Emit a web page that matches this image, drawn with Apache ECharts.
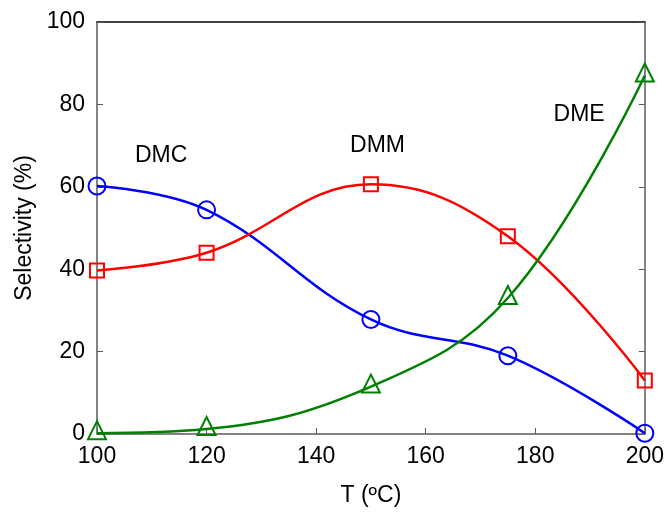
<!DOCTYPE html>
<html>
<head>
<meta charset="utf-8">
<script src="https://cdn.jsdelivr.net/npm/echarts@6/dist/echarts.min.js"></script>
<style>
  html, body { margin: 0; padding: 0; background: #fff; }
  #chart { width: 667px; height: 512px; }
</style>
</head>
<body>
<div id="chart"></div>
<script>
// temperatures (ºC) and selectivities (%)
var temps = [100, 120, 150, 175, 200]
var dmc = [60.2, 54.4, 27.8, 19.0, 0.2]
var dmm = [39.7, 44.0, 60.6, 48.0, 13.0]
var dme = [0.2, 1.2, 11.5, 33.0, 87.0]

// text labels placed in data coordinates
var labelNames = ['DMC', 'DMM', 'DME']
var labelAt = [[111.7, 67.6], [151.2, 70.0], [188.0, 77.5]]

var font = 'Liberation Sans, Arial, sans-serif'
var fs = 23
var axisGray = '#5a5a5a'

function pairs(ys) {
  return temps.map(function (t, i) { return [t, ys[i]] })
}

function lineSeries(name, ys, color, symbol, size, offset) {
  return {
    name: name,
    type: 'line',
    data: pairs(ys),
    smooth: 0.4,
    symbol: symbol,
    symbolSize: size,
    symbolOffset: offset || [0, 0],
    showAllSymbol: true,
    lineStyle: { color: color, width: 2.5 },
    itemStyle: { color: 'rgba(255,255,255,0)', borderColor: color, borderWidth: 2 },
    emphasis: { disabled: true },
    z: 3
  }
}

var chart = echarts.init(document.getElementById('chart'))
chart.setOption({
  animation: false,
  backgroundColor: '#fff',
  grid: { left: 97, right: 21, top: 22, bottom: 76, containLabel: false },
  xAxis: [{
    type: 'value',
    min: 100, max: 200, interval: 20,
    name: 'T (ºC)',
    nameLocation: 'middle',
    nameGap: 50,
    nameTextStyle: { color: '#000', fontSize: fs, fontFamily: font },
    axisLine: { show: true, onZero: false, lineStyle: { color: axisGray, width: 1.5 } },
    axisTick: { show: true, inside: true, length: 6, lineStyle: { color: axisGray } },
    axisLabel: { color: '#000', fontSize: fs, fontFamily: font, margin: 11 },
    splitLine: { show: false }
  }, {
    type: 'value',
    position: 'top',
    min: 100, max: 200, interval: 20,
    axisLine: { show: true, onZero: false, lineStyle: { color: '#000', width: 1.5 } },
    axisTick: { show: false },
    axisLabel: { show: false },
    splitLine: { show: false }
  }],
  yAxis: [{
    type: 'value',
    min: 0, max: 100, interval: 20,
    name: 'Selectivity (%)',
    nameLocation: 'middle',
    nameGap: 60,
    nameTextStyle: { color: '#000', fontSize: fs, fontFamily: font },
    axisLine: { show: true, onZero: false, lineStyle: { color: axisGray, width: 1.5 } },
    axisTick: { show: true, inside: true, length: 6, lineStyle: { color: axisGray } },
    axisLabel: { color: '#000', fontSize: fs, fontFamily: font, margin: 12 },
    splitLine: { show: false }
  }, {
    type: 'value',
    position: 'right',
    min: 0, max: 100, interval: 20,
    axisLine: { show: true, onZero: false, lineStyle: { color: axisGray, width: 1.5 } },
    axisTick: { show: true, inside: true, length: 6, lineStyle: { color: axisGray } },
    axisLabel: { show: false },
    splitLine: { show: false }
  }],
  series: [
    lineSeries('DMC', dmc, '#0000ff', 'circle', 17),
    lineSeries('DMM', dmm, '#ff0000', 'rect', 14),
    lineSeries('DME', dme, '#008000', 'triangle', 18, [0, -3]),
    {
      name: 'labels',
      type: 'scatter',
      symbolSize: 0,
      itemStyle: { color: '#000', opacity: 1 },
      label: {
        show: true, position: [0, 0], align: 'center', verticalAlign: 'middle',
        formatter: function (p) { return labelNames[p.dataIndex] },
        color: '#000', fontSize: fs, fontFamily: font
      },
      emphasis: { disabled: true },
      data: labelAt,
      z: 4
    }
  ]
})
</script>
</body>
</html>
